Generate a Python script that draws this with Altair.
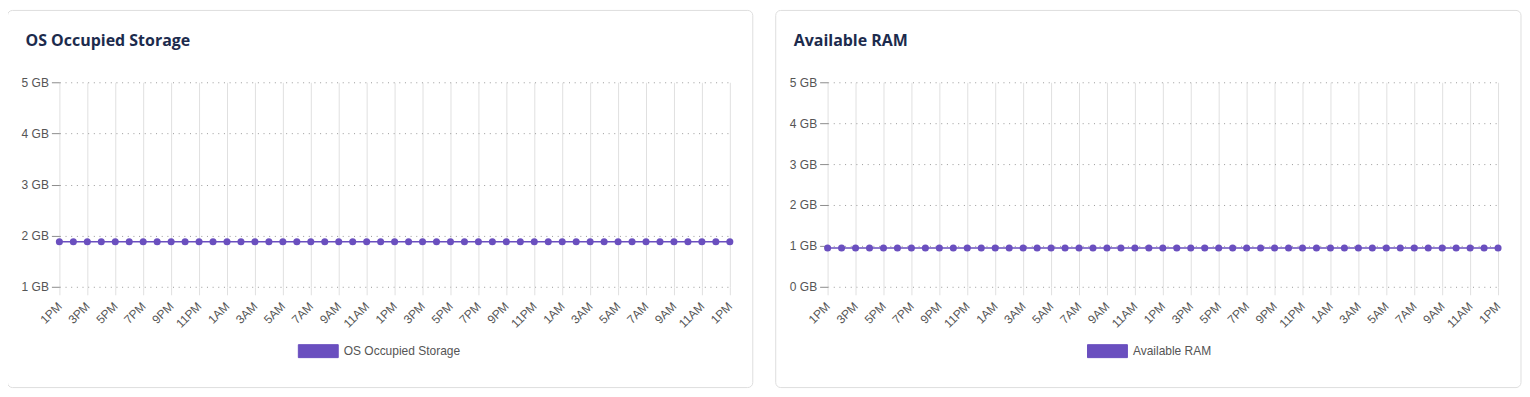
import altair as alt
import pandas as pd

# ---- data ----
hours = [t.strftime("%Y-%m-%dT%H:%M:%S")
         for t in pd.date_range("2024-01-01 13:00", periods=49, freq="h")]
storage_gb = [1.88, 1.88, 1.88, 1.88, 1.88, 1.88, 1.88, 1.88, 1.88, 1.88,
              1.88, 1.88, 1.88, 1.88, 1.88, 1.88, 1.88, 1.88, 1.88, 1.88,
              1.88, 1.88, 1.88, 1.88, 1.88, 1.88, 1.88, 1.88, 1.88, 1.88,
              1.88, 1.88, 1.88, 1.88, 1.88, 1.88, 1.88, 1.88, 1.88, 1.88,
              1.88, 1.88, 1.88, 1.88, 1.88, 1.88, 1.88, 1.88, 1.88]
ram_gb = [0.95, 0.95, 0.95, 0.95, 0.95, 0.95, 0.95, 0.95, 0.95, 0.95,
          0.95, 0.95, 0.95, 0.95, 0.95, 0.95, 0.95, 0.95, 0.95, 0.95,
          0.95, 0.95, 0.95, 0.95, 0.95, 0.95, 0.95, 0.95, 0.95, 0.95,
          0.95, 0.95, 0.95, 0.95, 0.95, 0.95, 0.95, 0.95, 0.95, 0.95,
          0.95, 0.95, 0.95, 0.95, 0.95, 0.95, 0.95, 0.95, 0.95]
storage_ticks = [1, 2, 3, 4, 5]
ram_ticks = [0, 1, 2, 3, 4, 5]
tick_hours = hours[::2]
titles = ["OS Occupied Storage", "Available RAM"]

PURPLE = "#6a4fbf"
FONT = "Liberation Sans"
TITLE_FONT = "Open Sans"
W, H = 672, 205


def to_dt(s):
    t = pd.Timestamp(s)
    return alt.DateTime(year=t.year, month=t.month, date=t.day, hours=t.hour)


def panel(values, name, yticks, legend_x):
    df = pd.DataFrame({"time": hours, "value": values, "series": name})
    x = alt.X("time:T",
              scale=alt.Scale(domain=[to_dt(hours[0]), to_dt(hours[-1])], nice=False),
              axis=alt.Axis(values=[to_dt(h) for h in tick_hours], format="%-I%p",
                            title=None, domain=False, labelAngle=-45,
                            labelAlign="right", labelBaseline="middle",
                            labelOverlap=False, labelBound=False, labelFlush=False,
                            labelPadding=9, tickSize=8, tickColor="#e0e0e0",
                            grid=True, gridColor="#e0e0e0", gridWidth=1,
                            labelFont=FONT, labelFontSize=12, labelColor="#555555"))
    y = alt.Y("value:Q",
              scale=alt.Scale(domain=[yticks[0], yticks[-1]], nice=False, zero=False),
              axis=alt.Axis(values=yticks, labelExpr="datum.value + ' GB'",
                            title=None, domain=False, tickSize=8,
                            tickColor="#8d8d8d", labelPadding=3,
                            grid=True, gridColor="#9a9a9a", gridDash=[1, 4.67],
                            labelFont=FONT, labelFontSize=12, labelColor="#555555"))
    color = alt.Color("series:N",
                      scale=alt.Scale(domain=[name], range=[PURPLE]),
                      legend=alt.Legend(title=None, orient="none",
                                        legendX=legend_x, legendY=249,
                                        symbolType="M-1,-0.325L1,-0.325L1,0.325L-1,0.325Z",
                                        symbolSize=1600, symbolFillColor=PURPLE,
                                        symbolStrokeColor="#5a40b0", symbolStrokeWidth=1,
                                        symbolOpacity=1, labelFont=FONT,
                                        labelFontSize=12, labelColor="#555555",
                                        labelOffset=5, padding=0))
    base = alt.Chart(df)
    card_df = pd.DataFrame({"label": [name]})
    card = alt.Chart(card_df).mark_rect(
        fill="white", fillOpacity=0, stroke="#dedede", strokeWidth=1, cornerRadius=5
    ).encode(x=alt.value(-52), x2=alt.value(695), y=alt.value(-72), y2=alt.value(306))
    title = alt.Chart(card_df).mark_text(
        align="left", baseline="alphabetic", font=TITLE_FONT, fontSize=16,
        fontWeight="bold", color="#1c2b4d"
    ).encode(text="label:N", x=alt.value(-34), y=alt.value(-36))
    line = base.mark_line(strokeWidth=1.6).encode(x=x, y=y, color=color)
    pts = base.mark_circle(size=50, opacity=1).encode(x=x, y=y, color=color)
    return alt.layer(card, line, pts, title).properties(width=W, height=H)


left = panel(storage_gb, titles[0], storage_ticks, 239)
right = panel(ram_gb, titles[1], ram_ticks, 260)

chart = alt.hconcat(left, right, spacing=21).resolve_scale(
    color="independent").resolve_legend(color="independent").properties(
    padding={"left": -1.5, "top": 1, "right": 0, "bottom": 0}
).configure_view(stroke=None)

chart.save("out.html", embed_options={"renderer": "svg", "actions": False})
